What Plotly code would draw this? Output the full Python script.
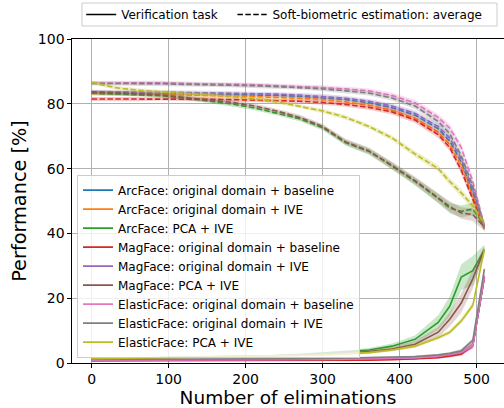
import plotly.graph_objects as go

eliminations = [0, 30, 60, 90, 120, 150, 180, 210, 240, 270, 300, 330, 360, 390, 420, 450, 465, 480, 495, 510]

names = [
    "ArcFace: original domain + baseline",
    "ArcFace: original domain + IVE",
    "ArcFace: PCA + IVE",
    "MagFace: original domain + baseline",
    "MagFace: original domain + IVE",
    "MagFace: PCA + IVE",
    "ElasticFace: original domain + baseline",
    "ElasticFace: original domain + IVE",
    "ElasticFace: PCA + IVE",
]
colors = ["#1f77b4", "#ff7f0e", "#2ca02c", "#d62728", "#9467bd",
          "#8c564b", "#e377c2", "#7f7f7f", "#bcbd22"]

# Soft-biometric estimation: average (dashed)
soft_arc_base = [83.5, 83.4, 83.3, 83.3, 83.2, 83.1, 83.0, 82.8, 82.6, 82.3, 81.9, 81.3, 80.3, 78.8, 76.5, 72.3, 68.5, 62.0, 52.5, 42.0]
soft_arc_ive = [83.2, 83.0, 82.9, 82.9, 82.8, 82.6, 82.4, 82.2, 82.0, 81.7, 81.3, 80.6, 79.6, 78.0, 75.5, 71.3, 67.5, 61.0, 51.5, 41.5]
soft_arc_pca = [83.3, 83.1, 82.9, 82.5, 81.8, 80.9, 80.0, 78.8, 77.2, 75.4, 72.6, 68.0, 65.3, 60.8, 56.0, 50.8, 47.8, 46.8, 47.5, 42.5]
soft_mag_base = [81.5, 81.5, 81.4, 81.6, 81.5, 81.4, 81.3, 81.2, 81.0, 80.8, 80.4, 79.8, 78.9, 77.5, 75.0, 70.5, 66.5, 59.5, 50.5, 41.5]
soft_mag_ive = [83.7, 83.7, 83.6, 83.6, 83.5, 83.4, 83.3, 83.2, 83.0, 82.7, 82.3, 81.7, 80.8, 79.3, 77.0, 73.0, 69.5, 63.0, 53.5, 42.0]
soft_mag_pca = [83.6, 83.4, 83.1, 82.7, 82.0, 81.2, 80.5, 79.4, 77.8, 75.8, 73.0, 68.2, 65.5, 61.0, 56.3, 51.0, 48.3, 46.3, 45.8, 42.0]
soft_ela_base = [86.4, 86.5, 86.4, 86.5, 86.3, 86.2, 86.0, 85.9, 85.6, 85.4, 85.0, 84.6, 84.0, 82.6, 80.3, 75.8, 72.5, 66.5, 56.0, 42.5]
soft_ela_ive = [86.3, 86.3, 86.2, 86.2, 86.0, 85.9, 85.7, 85.6, 85.3, 85.0, 84.6, 84.0, 83.3, 81.8, 79.3, 74.5, 70.8, 64.0, 54.5, 42.0]
soft_ela_pca = [86.6, 85.0, 84.2, 83.6, 83.2, 82.8, 82.3, 81.6, 80.6, 79.3, 77.8, 75.8, 73.0, 69.5, 64.5, 60.0, 56.0, 52.5, 48.5, 43.0]

# Verification task (solid)
ver_arc_base = [0.8, 0.8, 0.8, 0.8, 0.8, 0.8, 0.8, 0.9, 0.9, 0.9, 1.0, 1.0, 1.1, 1.2, 1.4, 1.9, 2.4, 3.2, 5.6, 26.5]
ver_arc_ive = [0.8, 0.8, 0.8, 0.8, 0.8, 0.8, 0.9, 0.9, 0.9, 1.0, 1.0, 1.1, 1.1, 1.2, 1.4, 1.9, 2.4, 3.2, 5.6, 26.5]
ver_arc_pca = [1.3, 1.4, 1.5, 1.6, 1.7, 1.8, 1.9, 2.1, 2.3, 2.6, 3.0, 3.4, 4.0, 5.2, 7.3, 12.5, 17.5, 26.5, 28.5, 35.0]
ver_mag_base = [0.7, 0.7, 0.7, 0.7, 0.7, 0.7, 0.7, 0.8, 0.8, 0.8, 0.8, 0.9, 0.9, 1.0, 1.2, 1.6, 2.1, 2.7, 5.3, 26.5]
ver_mag_ive = [1.0, 1.0, 1.0, 1.0, 1.0, 1.0, 1.0, 1.0, 1.1, 1.1, 1.1, 1.2, 1.3, 1.4, 1.6, 2.1, 2.6, 3.3, 5.3, 26.5]
ver_mag_pca = [1.3, 1.4, 1.5, 1.6, 1.7, 1.8, 1.9, 2.0, 2.2, 2.4, 2.7, 3.0, 3.5, 4.3, 5.8, 9.5, 13.5, 18.5, 26.0, 35.0]
ver_ela_base = [0.9, 0.9, 0.9, 0.9, 0.9, 1.0, 1.0, 1.0, 1.0, 1.1, 1.1, 1.2, 1.3, 1.4, 1.6, 2.1, 2.6, 3.3, 5.5, 27.0]
ver_ela_ive = [1.1, 1.1, 1.1, 1.2, 1.2, 1.2, 1.2, 1.3, 1.3, 1.3, 1.4, 1.5, 1.6, 1.7, 2.0, 2.5, 3.0, 3.8, 7.0, 29.0]
ver_ela_pca = [1.3, 1.4, 1.5, 1.5, 1.6, 1.7, 1.8, 1.9, 2.1, 2.3, 2.5, 2.8, 3.2, 4.0, 5.2, 7.8, 9.5, 13.0, 17.8, 35.0]

# standard deviations (shaded bands)
std_soft_default = [0.6, 0.6, 0.6, 0.6, 0.6, 0.6, 0.6, 0.6, 0.6, 0.6, 0.7, 0.7, 0.7, 0.8, 0.9, 1.0, 1.1, 1.2, 1.2, 1.0]
std_soft_pca = [0.6, 0.6, 0.6, 0.6, 0.6, 0.6, 0.7, 0.7, 0.7, 0.8, 0.8, 0.9, 1.0, 1.1, 1.2, 1.4, 1.6, 1.8, 2.0, 1.2]
std_ver_default = [0.2, 0.2, 0.2, 0.2, 0.2, 0.2, 0.2, 0.2, 0.2, 0.2, 0.2, 0.2, 0.2, 0.3, 0.3, 0.3, 0.4, 0.5, 0.8, 1.0]
std_ver_arc_pca = [0.2, 0.2, 0.2, 0.2, 0.2, 0.2, 0.2, 0.3, 0.3, 0.3, 0.4, 0.5, 0.6, 0.8, 1.2, 2.2, 3.0, 4.0, 4.5, 1.5]
std_ver_mag_pca = [0.2, 0.2, 0.2, 0.2, 0.2, 0.2, 0.2, 0.3, 0.3, 0.3, 0.4, 0.5, 0.6, 0.7, 1.0, 1.6, 2.2, 3.0, 3.0, 1.2]
std_ver_ela_pca = [0.2, 0.2, 0.2, 0.2, 0.2, 0.2, 0.2, 0.2, 0.2, 0.3, 0.3, 0.3, 0.4, 0.4, 0.5, 0.6, 0.7, 0.8, 1.0, 1.0]

soft = [soft_arc_base, soft_arc_ive, soft_arc_pca, soft_mag_base, soft_mag_ive,
        soft_mag_pca, soft_ela_base, soft_ela_ive, soft_ela_pca]
ver = [ver_arc_base, ver_arc_ive, ver_arc_pca, ver_mag_base, ver_mag_ive,
       ver_mag_pca, ver_ela_base, ver_ela_ive, ver_ela_pca]
soft_std = [std_soft_default, std_soft_default, std_soft_pca, std_soft_default, std_soft_default,
            std_soft_pca, std_soft_default, std_soft_default, std_soft_default]
ver_std = [std_ver_default, std_ver_default, std_ver_arc_pca, std_ver_default, std_ver_default,
           std_ver_mag_pca, std_ver_default, std_ver_default, std_ver_ela_pca]


def rgba(hexc, a):
    h = hexc.lstrip("#")
    return "rgba(%d,%d,%d,%.2f)" % (int(h[0:2], 16), int(h[2:4], 16), int(h[4:6], 16), a)


fig = go.Figure()
DASH = "5.5px,2.4px"
LW = 1.6

for i in range(9):
    c = colors[i]
    for vals, sd, dash, leg in ((ver[i], ver_std[i], "solid", True), (soft[i], soft_std[i], DASH, False)):
        up = [v + s for v, s in zip(vals, sd)]
        lo = [v - s for v, s in zip(vals, sd)]
        fig.add_trace(go.Scatter(
            x=eliminations + eliminations[::-1], y=up + lo[::-1],
            fill="toself", fillcolor=rgba(c, 0.25), line=dict(width=0),
            mode="lines", showlegend=False, hoverinfo="skip"))
        fig.add_trace(go.Scatter(
            x=eliminations, y=vals, mode="lines", name=names[i],
            line=dict(color=c, width=LW, dash=dash),
            showlegend=leg, legend="legend"))

fig.add_trace(go.Scatter(x=[None], y=[None], mode="lines", name="Verification task",
                         line=dict(color="black", width=LW), legend="legend2"))
fig.add_trace(go.Scatter(x=[None], y=[None], mode="lines", name="Soft-biometric estimation: average",
                         line=dict(color="black", width=LW, dash=DASH), legend="legend3"))

font = "DejaVu Sans"
fig.update_layout(
    width=504, height=408,
    margin=dict(l=72, r=0, t=39, b=45, autoexpand=False),
    paper_bgcolor="white", plot_bgcolor="white",
    font=dict(family=font, color="black"),
    xaxis=dict(range=[-25.5, 535.5], tickvals=[0, 100, 200, 300, 400, 500],
               showgrid=True, gridcolor="#b0b0b0", gridwidth=0.8,
               showline=True, linecolor="black", linewidth=1.3, mirror=True,
               ticks="outside", ticklen=3.5, tickcolor="black",
               tickfont=dict(size=14), zeroline=False,
               title=dict(text="Number of eliminations", font=dict(size=18.5), standoff=7)),
    yaxis=dict(range=[0, 100], tickvals=[0, 20, 40, 60, 80, 100],
               showgrid=True, gridcolor="#b0b0b0", gridwidth=0.8,
               showline=True, linecolor="black", linewidth=1.3,
               ticks="outside", ticklen=3.5, tickcolor="black",
               tickfont=dict(size=14), zeroline=False,
               title=dict(text="Performance [%]", font=dict(size=19.3), standoff=6)),
    legend=dict(x=0.0116, y=0.299, xanchor="left", yanchor="middle",
                bgcolor="rgba(255,255,255,0.8)", bordercolor="#cccccc", borderwidth=1,
                font=dict(size=12)),
    legend2=dict(orientation="h", x=0.0213, y=1.0756, xanchor="left", yanchor="middle",
                 bgcolor="rgba(0,0,0,0)", borderwidth=0, font=dict(size=12)),
    legend3=dict(orientation="h", x=0.3714, y=1.0756, xanchor="left", yanchor="middle",
                 bgcolor="rgba(0,0,0,0)", borderwidth=0, font=dict(size=12)),
    shapes=[dict(type="rect", xref="paper", yref="paper",
                 x0=0.0231, x1=0.9838, y0=1.0401, y1=1.1111,
                 line=dict(color="#cccccc", width=1), fillcolor="rgba(0,0,0,0)")],
)

fig.write_html("out.html", config={"displayModeBar": False},
               post_script="document.body.style.margin='0';document.body.style.overflow='hidden';")
